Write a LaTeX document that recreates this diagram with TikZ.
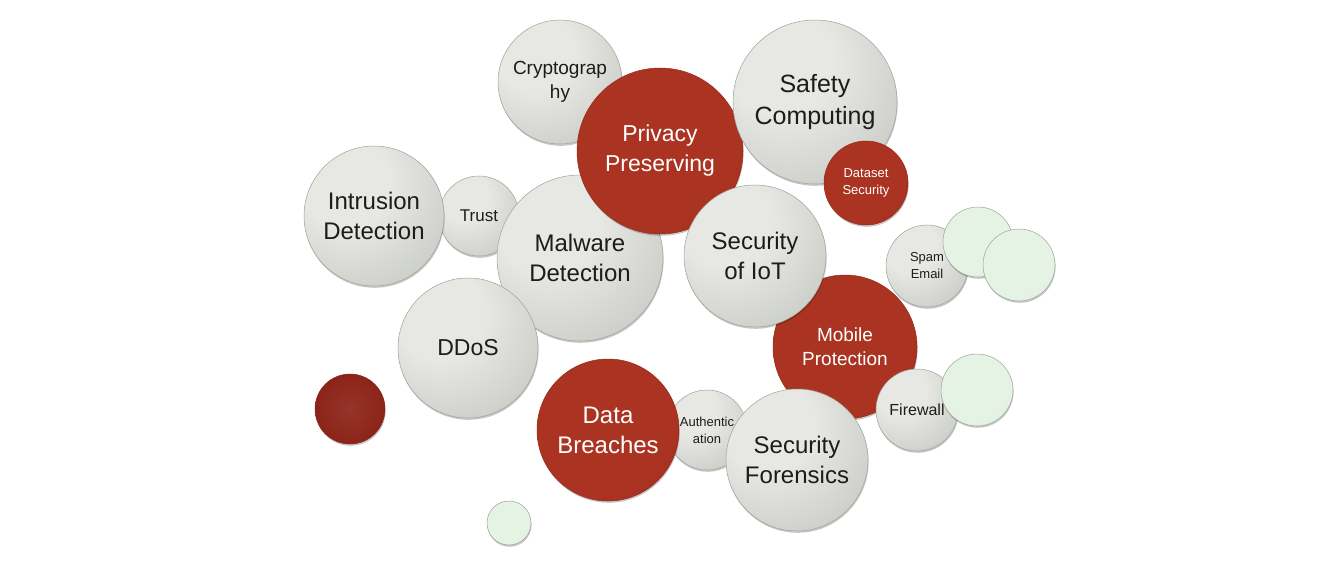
\documentclass[tikz,border=0pt]{standalone}
\usepackage{fontspec}
\setmainfont{Liberation Sans}
\usepackage{tikz}
\usetikzlibrary{shadows}
\usepackage{xcolor}
\definecolor{BubHi}{HTML}{E7E8E4}
\definecolor{BubLo}{HTML}{A9ACA4}
\definecolor{BubEdge}{HTML}{9FA29A}
\definecolor{TopicRed}{HTML}{AB3321}
\definecolor{TopicRedLo}{HTML}{952A1B}
\definecolor{DeepRed}{HTML}{8C2318}
\definecolor{MintHi}{HTML}{E4F3E4}
\definecolor{MintLo}{HTML}{CFE4CF}
\definecolor{InkGray}{HTML}{1C1C1C}
\pgfdeclareradialshading{bubshade}{\pgfpoint{-12bp}{14bp}}{color(0bp)=(BubHi); color(16bp)=(BubHi); color(66bp)=(BubLo); color(100bp)=(BubLo)}
\pgfdeclareradialshading{redshade}{\pgfpoint{-10bp}{12bp}}{color(0bp)=(TopicRed); color(30bp)=(TopicRed); color(66bp)=(TopicRedLo); color(100bp)=(TopicRedLo)}
\pgfdeclareradialshading{mintshade}{\pgfpoint{-10bp}{12bp}}{color(0bp)=(MintHi); color(30bp)=(MintHi); color(66bp)=(MintLo); color(100bp)=(MintLo)}

\begin{document}
\begin{tikzpicture}[x=1pt,y=-1pt,every node/.style={align=center,inner sep=0pt},
    bubble/.style={circle,shade,shading=bubshade,draw=BubEdge,line width=.5pt,text=InkGray,drop shadow={fill=black,opacity=.22,shadow xshift=.6pt,shadow yshift=-1.8pt}},
    redbub/.style={circle,shade,shading=redshade,draw=TopicRedLo,line width=.5pt,text=white,drop shadow={fill=black,opacity=.22,shadow xshift=.6pt,shadow yshift=-1.8pt}},
    mintbub/.style={circle,shade,shading=mintshade,draw=BubEdge,line width=.5pt,drop shadow={fill=black,opacity=.22,shadow xshift=.6pt,shadow yshift=-1.8pt}},
    bigtxt/.style={font=\fontsize{24}{30}\selectfont},
    midtxt/.style={font=\fontsize{19}{24}\selectfont},
    smalltxt/.style={font=\fontsize{13}{17}\selectfont}]
  \useasboundingbox (0,0) rectangle (1332,580);
  % upper left cluster
  \node[bubble,midtxt,minimum size=124pt] (crypto) at (560,82) {Cryptograp\\hy};
  \node[bubble,minimum size=80pt,font=\fontsize{17}{20}\selectfont] (trust) at (479,216) {Trust};
  \node[bubble,bigtxt,minimum size=140pt] (intrusion) at (374,216) {Intrusion\\Detection};
  \node[bubble,bigtxt,minimum size=166pt] (malware) at (580,258) {Malware\\Detection};
  \node[redbub,font=\fontsize{23}{30}\selectfont,minimum size=166pt] (privacy) at (660,151) {Privacy\\Preserving};
  \node[bubble,font=\fontsize{25}{32}\selectfont,minimum size=164pt] (safety) at (815,102) {Safety\\Computing};
  \node[redbub,smalltxt,minimum size=84pt] (dataset) at (866,183) {Dataset\\Security};
  \node[bubble,font=\fontsize{23}{28}\selectfont,minimum size=140pt] (ddos) at (468,348) {DDoS};
  % middle and lower cluster
  \node[redbub,midtxt,minimum size=144pt] (mobile) at (845,347) {Mobile\\Protection};
  \node[bubble,bigtxt,minimum size=142pt] (iot) at (755,256) {Security\\of IoT};
  \node[bubble,smalltxt,minimum size=80pt] (auth) at (707,430) {Authentic\\ation};
  \node[redbub,bigtxt,minimum size=142pt] (breaches) at (608,430) {Data\\Breaches};
  \node[bubble,bigtxt,minimum size=142pt] (forensics) at (797,460) {Security\\Forensics};
  \node[bubble,minimum size=82pt,font=\fontsize{16}{20}\selectfont] (firewall) at (917,410) {Firewall};
  \node[mintbub,minimum size=72pt] (mintfw) at (977,390) {};
  % right side
  \node[bubble,smalltxt,minimum size=82pt] (spam) at (927,266) {Spam\\Email};
  \node[mintbub,minimum size=70pt] (mintspam) at (978,242) {};
  \node[mintbub,minimum size=72pt] (mintright) at (1019,265) {};
  % loose dots
  \node[circle,draw=DeepRed,line width=.5pt,minimum size=70pt,drop shadow={fill=black,opacity=.22,shadow xshift=.6pt,shadow yshift=-1.8pt},inner color=DeepRed!92!white,outer color=DeepRed] (lonered) at (350,409) {};
  \node[mintbub,minimum size=44pt] (mintsmall) at (509,523) {};
\end{tikzpicture}
\end{document}
